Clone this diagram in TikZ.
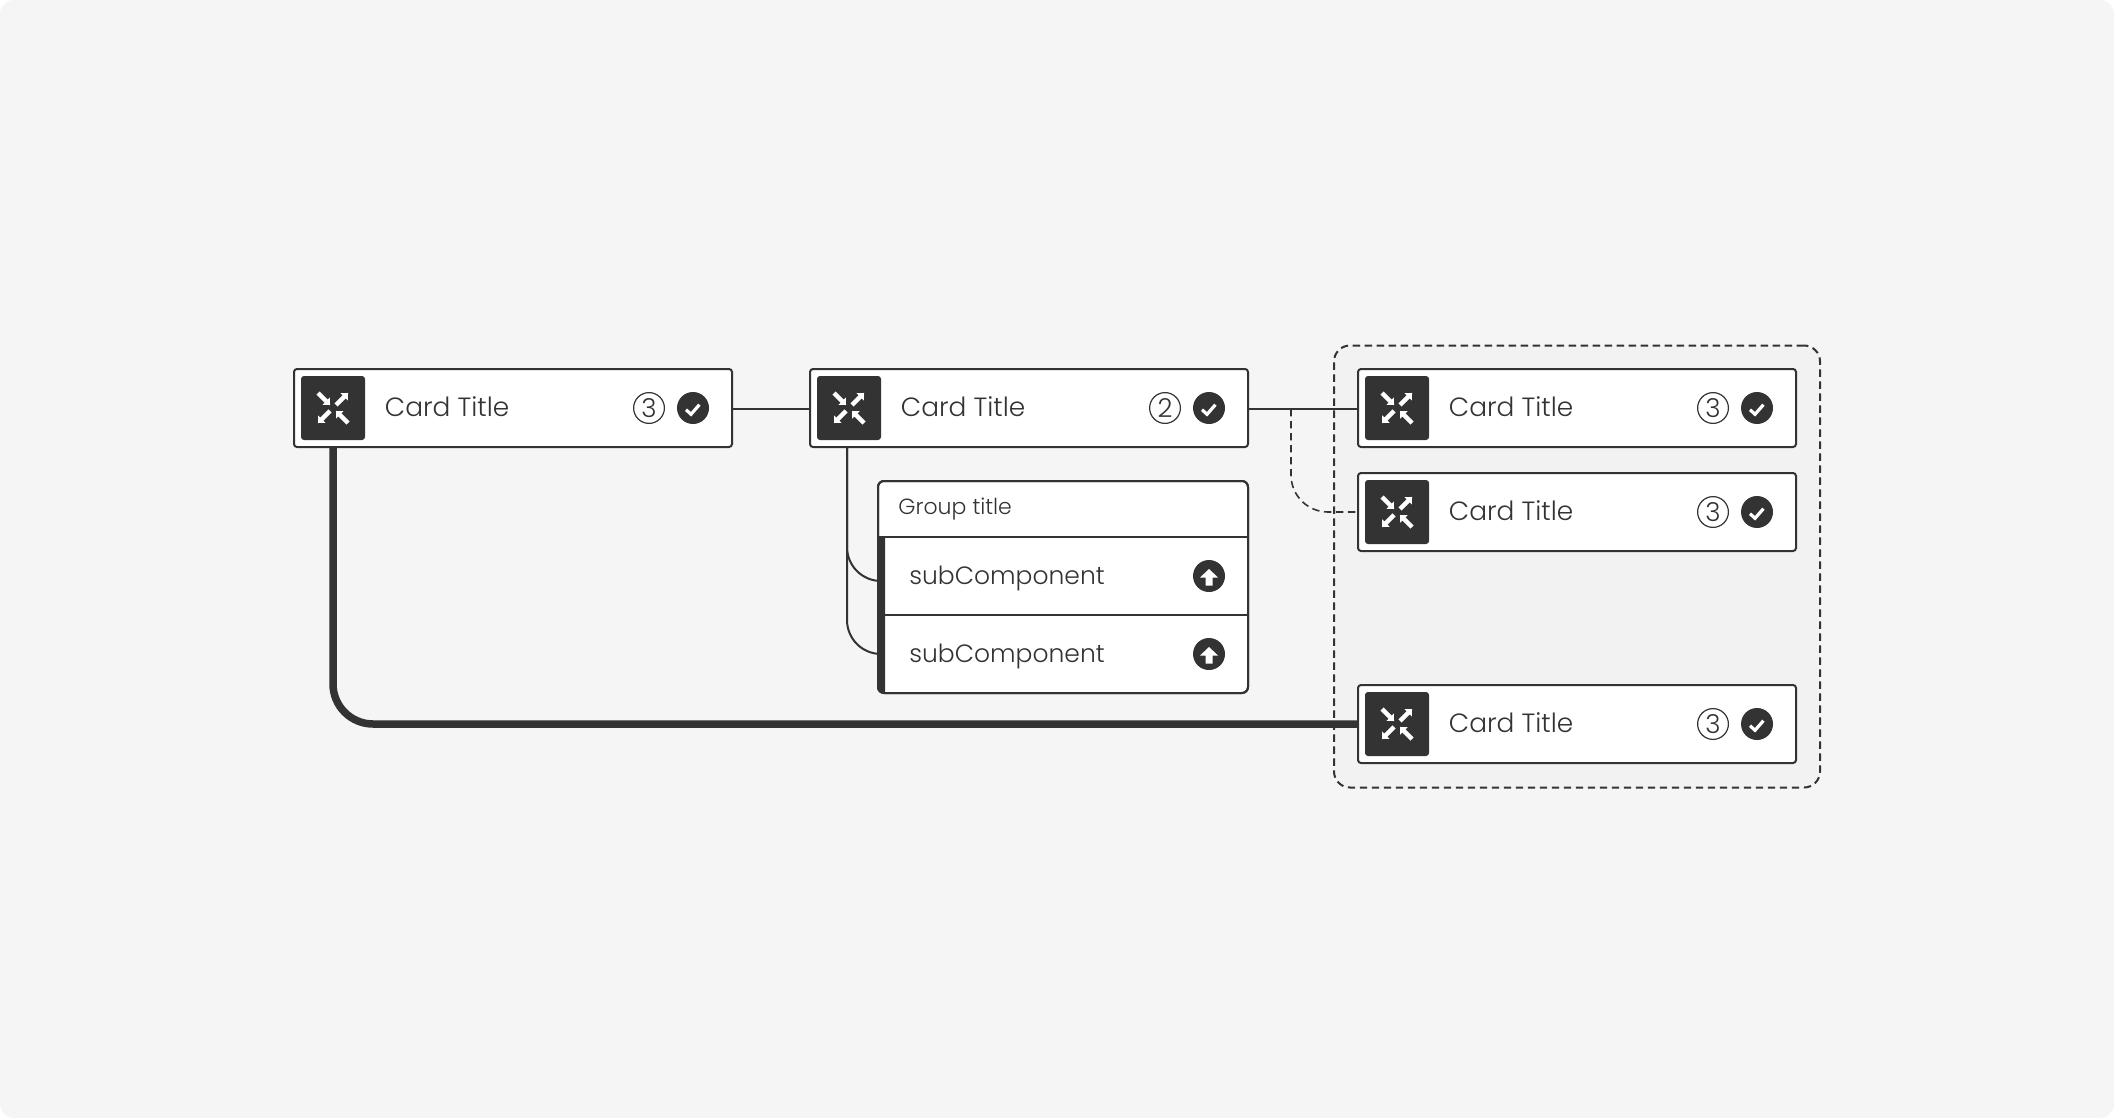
\documentclass[tikz,border=0pt]{standalone}
\usepackage{fontspec}
\setmainfont{Poppins}[UprightFont=* Light]
\usetikzlibrary{calc}
\definecolor{ink}{HTML}{333333}
\definecolor{paper}{HTML}{F5F5F5}
\definecolor{zone}{HTML}{F2F2F2}
\tikzset{
  cardbox/.style={draw=ink, fill=white, line width=1pt, rounded corners=1.5pt, anchor=north west, outer sep=0, inner sep=0, minimum width=219pt, minimum height=39pt},
  iconbox/.style={fill=ink, rounded corners=1.5pt, inner sep=0, minimum size=32pt},
  titletext/.style={anchor=base west, text=ink, inner sep=0, font=\fontsize{13.2}{16}\selectfont},
  grouptext/.style={anchor=base west, text=ink, inner sep=0, font=\fontsize{11}{13}\selectfont},
  subtext/.style={anchor=base west, text=ink, inner sep=0, font=\fontsize{12.5}{15}\selectfont},
  countmark/.style={circle, draw=ink, fill=white, line width=0.6pt, inner sep=0, minimum size=15.4pt, text=ink, font=\fontsize{13}{15}\selectfont},
  dotmark/.style={circle, fill=ink, inner sep=0, minimum size=16pt},
  wire/.style={draw=ink, line width=1pt},
  heavywire/.style={draw=ink, line width=3.75pt},
  dashwire/.style={draw=ink, line width=0.8pt, dash pattern=on 3.7pt off 2.3pt},
  tickline/.style={draw=white, line width=1.6pt},
  pointer/.pic={\fill[white] (0,-2.2) -- (11.5,-2.2) -- (11.5,-5.2) -- (17,0) -- (11.5,5.2) -- (11.5,2.2) -- (0,2.2) -- cycle;},
  shrink/.pic={
    \path (-15,-15) pic[rotate=-45] {pointer};
    \path (3,-3) pic[rotate=45] {pointer};
    \path (-3,3) pic[rotate=225] {pointer};
    \path (15,15) pic[rotate=135] {pointer};
  },
}
\newcommand{\carditem}[4]{
  \node[cardbox] (#1) at (#2,#3) {};
  \node[iconbox] (#1icon) at (#2+39,#3+39) {};
  \pic at (#1icon) {shrink};
  \node[titletext] (#1title) at (#2+90.5,#3+47) {Card Title};
  \node[countmark] (#1count) at (#2+355,#3+39) {#4};
  \node[dotmark] (#1done) at (#2+399,#3+39) {};
  \draw[tickline] (#1done) ++(-7,1.7) -- ++(5,4.6) -- ++(8.4,-9.6);
}
\newcommand{\uploadmark}[2]{
  \node[dotmark] (#1) at (1209,#2) {};
  \fill[white] (#1) ++(0,-7) -- ++(9,8.5) -- ++(-5.5,0) -- ++(0,8) -- ++(-7,0) -- ++(0,-8) -- ++(-5.5,0) -- cycle;
}

\begin{document}
\begin{tikzpicture}[x=0.5pt, y=-0.5pt]
  \useasboundingbox (0,0) rectangle (2114,1118);
  \fill[paper, rounded corners=7pt] (0,0) rectangle (2114,1118);

  \node[draw=ink, fill=zone, line width=1pt, dash pattern=on 3.7pt off 2.3pt, rounded corners=8pt, anchor=north west, inner sep=0, minimum width=243pt, minimum height=221pt] (zonebox) at (1333,344.5) {};

  \carditem{cardA}{294}{369}{3}
  \carditem{cardB}{810}{369}{2}
  \carditem{cardC}{1358}{369}{3}
  \carditem{cardD}{1358}{473}{3}
  \carditem{cardE}{1358}{685}{3}

  \coordinate (tap) at (1291,409);
  \coordinate (stem) at (847,447);
  \coordinate (entryA) at (885,581);
  \coordinate (entryB) at (885,654);

  \draw[wire] ([yshift=-0.5pt]cardA.east) -- ([yshift=-0.5pt]cardB.west);
  \draw[wire] ([yshift=-0.5pt]cardB.east) -- ([yshift=-0.5pt]cardC.west);
  \draw[dashwire, rounded corners=18.5pt] (tap) |- (cardD.west);
  \draw[wire, rounded corners=17pt] (stem) |- (entryA);
  \draw[wire, rounded corners=17pt] (stem) |- (entryB);
  \draw[heavywire, rounded corners=20pt] (cardAicon |- cardA.south) |- (cardE.west);

  \node[draw=ink, fill=white, line width=1pt, rounded corners=3pt, anchor=north west, outer sep=0, inner sep=0, minimum width=185pt, minimum height=106pt] (groupbox) at (878,481) {};
  \fill[ink] (878,537) -- (885,537) -- (885,693) -- (882,693) arc[start angle=90, end angle=180, radius=4] -- cycle;
  \draw[wire] (groupbox.west |- 0,537) -- (groupbox.east |- 0,537);
  \draw[wire] (885,615) -- (groupbox.east |- 0,615);
  \draw[draw=ink, fill=none, line width=1pt, rounded corners=3pt] (groupbox.north west) rectangle (groupbox.south east);

  \node[grouptext] (grouptitle) at (898,514) {Group title};
  \node[subtext] (subA) at (909,584) {subComponent};
  \node[subtext] (subB) at (909,662) {subComponent};
  \uploadmark{upA}{576}
  \uploadmark{upB}{654}
\end{tikzpicture}
\end{document}
